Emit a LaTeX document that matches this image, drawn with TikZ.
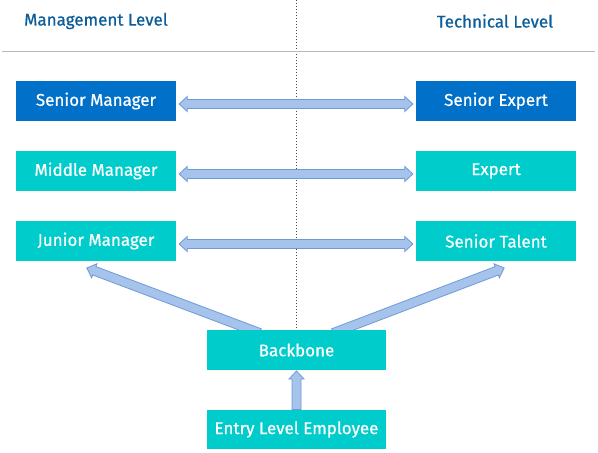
\documentclass[tikz,border=0pt]{standalone}
\usepackage{fontspec}
\setmainfont{Fira Sans}
\usetikzlibrary{calc,backgrounds}
\definecolor{darkbox}{HTML}{0070C9}
\definecolor{tealbox}{HTML}{00CCCC}
\definecolor{headtext}{HTML}{0B5E9A}
\definecolor{arfill}{HTML}{A6C3EC}
\definecolor{ardraw}{HTML}{6E9BD8}
\definecolor{ruleline}{HTML}{BBBBBB}
\newcommand\diagfont{\fontsize{17}{20}\selectfont\addfontfeature{FakeBold=0.6}}
\tikzset{
  box/.style={rectangle, minimum width=160pt, minimum height=39.5pt, inner sep=0pt,
    text=white, font=\diagfont},
  darkb/.style={box, fill=darkbox},
  tealb/.style={box, fill=tealbox},
  wideb/.style={box, fill=tealbox, minimum width=179pt},
  head/.style={text=headtext, font=\diagfont, inner sep=0pt},
  blockarrow/.style={fill=arfill, draw=ardraw, line width=0.8pt, line join=miter},
}
\newcommand\dblarrow[2]{%
  \path (#1) coordinate (qa) (#2) coordinate (qb);
  \path ($(qa)!8pt!(qb)$) coordinate (ha) ($(qb)!8pt!(qa)$) coordinate (hb);
  \draw[blockarrow] (qa) -- ($(ha)!7.5pt!90:(qb)$) -- ($(ha)!4.5pt!90:(qb)$)
    -- ($(hb)!4.5pt!-90:(qa)$) -- ($(hb)!7.5pt!-90:(qa)$) -- (qb)
    -- ($(hb)!7.5pt!90:(qa)$) -- ($(hb)!4.5pt!90:(qa)$)
    -- ($(ha)!4.5pt!-90:(qb)$) -- ($(ha)!7.5pt!-90:(qb)$) -- cycle;
}
\newcommand\sglarrow[2]{%
  \path (#1) coordinate (qa) (#2) coordinate (qb);
  \path ($(qb)!8pt!(qa)$) coordinate (hb);
  \draw[blockarrow] ($(qa)!4.5pt!90:(qb)$) -- ($(hb)!4.5pt!-90:(qa)$)
    -- ($(hb)!7.5pt!-90:(qa)$) -- (qb) -- ($(hb)!7.5pt!90:(qa)$)
    -- ($(hb)!4.5pt!90:(qa)$) -- ($(qa)!4.5pt!-90:(qb)$) -- cycle;
}
\begin{document}
\begin{tikzpicture}[x=1pt,y=-1pt]
\useasboundingbox (0,0) rectangle (598,453);
% headers
\node[head] (mgmt) at (96,21) {Management Level};
\node[head] (tech) at (495,21) {Technical Level};
\coordinate (rl) at (2,51);
\coordinate (rr) at (595,51);
\draw[ruleline, line width=1pt] (rl) -- (rr);
% boxes
\node[darkb] (sm) at (96,101) {Senior Manager};
\node[darkb] (se) at (496,101) {Senior Expert};
\node[tealb] (mm) at (96,171) {Middle Manager};
\node[tealb] (ex) at (496,171) {Expert};
\node[tealb] (jm) at (96,241) {Junior Manager};
\node[tealb] (st) at (496,241) {Senior Talent};
\node[wideb] (bb) at (296.5,350) {Backbone};
\node[wideb] (ee) at (296.5,429.5) {Entry Level Employee};
\coordinate (dtop) at (296,0);
\begin{pgfonlayer}{background}
\fill[white] (0,0) rectangle (598,453);
\draw[black!70, line width=0.8pt, dash pattern=on 1.2pt off 1.8pt] (dtop) -- (bb.north -| dtop);
\sglarrow{$(bb.north west)+(53,3)$}{$(jm.south west)+(71,7)$}
\sglarrow{$(bb.north east)+(-53,3)$}{$(st.south east)+(-72,7)$}
\end{pgfonlayer}
\dblarrow{$(sm.east)+(3,3)$}{$(se.west)+(-3,3)$}
\dblarrow{$(mm.east)+(3,3)$}{$(ex.west)+(-3,3)$}
\dblarrow{$(jm.east)+(3,3)$}{$(st.west)+(-3,3)$}
\sglarrow{ee.north}{$(bb.south)+(0,1)$}
\end{tikzpicture}
\end{document}
